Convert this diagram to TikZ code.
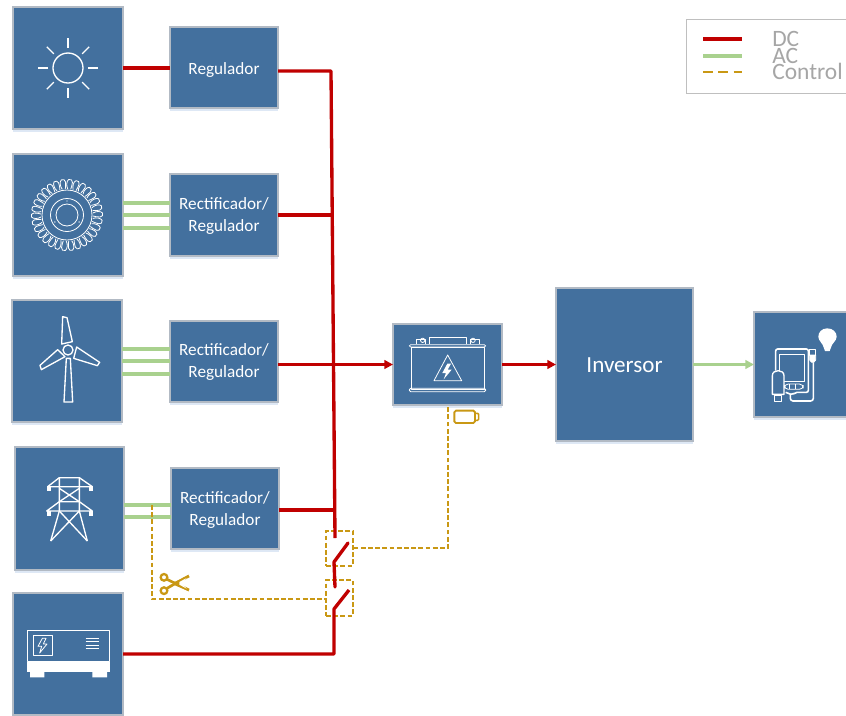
\documentclass[tikz,border=0pt]{standalone}
\usepackage{fontspec}
\setmainfont{Carlito}
\usetikzlibrary{arrows.meta}
\definecolor{boxblue}{RGB}{67,112,158}
\definecolor{boxedge}{RGB}{178,186,196}
\definecolor{legedge}{RGB}{191,191,191}
\definecolor{shade}{RGB}{222,232,245}
\definecolor{dcred}{RGB}{192,0,0}
\definecolor{acgreen}{RGB}{169,209,142}
\definecolor{ctrl}{RGB}{201,152,20}
\definecolor{leggrey}{RGB}{166,166,166}
\tikzset{
  x=.75pt,y=-.75pt,
  box/.style 2 args={draw=boxedge,line width=.8pt,fill=boxblue,inner sep=0pt,outer sep=0pt,
     minimum width=#1*.75pt,minimum height=#2*.75pt,
     preaction={draw=none,fill=shade,transform canvas={yshift=-2.5pt}}},
  dc/.style={draw=dcred,line width=2.5pt},
  ac/.style={draw=acgreen,line width=2.5pt},
  control/.style={draw=ctrl,line width=.9pt,dash pattern=on 3.6pt off 1.8pt},
  arrowtip/.style={-{Triangle[length=6.5pt,width=6.5pt]}},
  icon/.style={draw=white,line width=1pt,line join=round},
  thin icon/.style={draw=white,line width=.6pt,line join=round},
  zoomed/.style={x=.25pt,y=-.25pt},
  legtext/.style={text=leggrey,font=\fontsize{17.6}{18}\selectfont,anchor=base west,inner sep=0pt},
  lab/.style={text=white,align=center,inner sep=0pt,font=\fontsize{12.9}{16.5}\selectfont},
}
\begin{document}
\begin{tikzpicture}
\useasboundingbox (0,0) rectangle (846,715);
\clip (0,0) rectangle (846,715);
\fill[white] (0,0) rectangle (846,715);

% source boxes
\node[box={110}{122}] (sun) at (68,68) {};
\node[box={110}{122}] (turb) at (68,215) {};
\node[box={110}{122}] (wind) at (67,361) {};
\node[box={109}{123}] (grid) at (69.5,508.5) {};
\node[box={110}{122}] (gen) at (68,654) {};
% regulators
\node[box={108}{81}] (regA) at (224,67.5) {};
\node[box={108}{82}] (regB) at (224,215) {};
\node[box={108}{81}] (regC) at (224,361.5) {};
\node[box={108}{81}] (regD) at (225,508.5) {};
\node[lab] (labA) at ([yshift=-1.6pt]regA.center) {Regulador};
\node[lab] (labB) at ([yshift=-.75pt]regB.center) {Rectificador/\\Regulador};
\node[lab] (labC) at ([yshift=-.4pt]regC.center) {Rectificador/\\Regulador};
\node[lab] (labD) at ([yshift=-.75pt]regD.center) {Rectificador/\\Regulador};
% main blocks
\node[box={109}{81}] (bat) at (447.5,364.5) {};
\node[box={137}{153}] (inv) at (624.5,364.5) {};
\node[lab,font=\fontsize{17.3}{20}\selectfont] (labInv) at ([yshift=-.75pt]inv.center) {Inversor};
\node[box={100}{105}] (load) at (804,364.5) {};

% switch frames and junction points
\coordinate (busTop) at (331,71);
\coordinate (busEnd) at (335,538);
\coordinate (swAa) at (348,543);
\coordinate (swAb) at (334,562);
\coordinate (swAc) at (335,587);
\coordinate (swBa) at (349,590);
\coordinate (swBb) at (334,609);
\coordinate (genCorner) at (334,654);
\node[control,draw,minimum width=20.25pt,minimum height=26.25pt,inner sep=0pt] (frameA) at (339.5,548.5) {};
\node[control,draw,minimum width=20.25pt,minimum height=27pt,inner sep=0pt] (frameB) at (339.5,598) {};
\coordinate (ctlBat) at (448,548);
\coordinate (tapGrid) at (152,505);
\coordinate (tapCorner) at (152,599);

% AC lines
\foreach \y in {203,215,228} \draw[ac] (turb.east |- 0,\y) -- (regB.west |- 0,\y);
\foreach \y in {349,361,374} \draw[ac] (wind.east |- 0,\y) -- (regC.west |- 0,\y);
\foreach \y in {505,517} \draw[ac] (grid.east |- 0,\y) -- (regD.west |- 0,\y);
\draw[ac,arrowtip] (inv.east) -- (load.west);

% control lines
\draw[control] (frameA.east |- ctlBat) -- (ctlBat) -- (bat.south -| ctlBat);
\draw[control] (tapGrid) -- (tapCorner) -- (frameB.west |- tapCorner);

% DC lines
\draw[dc] (sun.east) -- (regA.west |- sun.east);
\draw[dc,line join=round] (regA.east |- busTop) -- (busTop) -- (busEnd);
\draw[dc] (regB.east) -- (332,215);
\draw[dc,arrowtip] (regC.east |- bat.west) -- (bat.west);
\draw[dc] (regD.east |- 0,510) -- (335,510);
\draw[dc,line cap=round,line join=round] (swAa) -- (swAb) -- (swAc);
\draw[dc,line join=round] (swBa) -- (swBb) -- (genCorner) -- (gen.east |- genCorner);
\draw[dc,arrowtip] (bat.east) -- (inv.west);

% sun icon
\draw[icon] (68,68) circle (15);
\foreach \a in {0,45,...,315} \draw[icon] (68,68) ++(\a:20) -- ++(\a:10);

% turbine icon
\draw[thin icon] (67,215) circle (25) circle (16.5) circle (11);
\foreach \a in {0,12,...,348} {
  \draw[thin icon,rotate around={\a:(67,215)}]
    (93,213) .. controls (96,211) and (101,211) .. (102.5,213)
    .. controls (103.5,215) and (102,217) .. (100,217) .. controls (97,217) and (95,216.5) .. (93,216);
}
\foreach \a in {30,150,270} \fill[white] (67,215) ++(\a:14) circle (.7);

% wind icon
\begin{scope}[shift={(0,290)},zoomed]
  \draw[icon] (199,205) -- (211,205) -- (218,336) -- (192,336) -- cycle;
  \draw[icon] (188,80) -- (201,83) -- (217,155) -- (185,162) -- cycle;
  \draw[icon] (173,179) -- (195,200) -- (124,239) -- (120,226) -- cycle;
  \draw[icon] (230,171) -- (299,217) -- (292,227) -- (221,205) -- cycle;
  \draw[icon] (204,180) circle (15);
\end{scope}

% grid icon
\begin{scope}[shift={(0,290)},zoomed]
  \draw[icon] (143,590) -- (178,563) -- (238,563) -- (277,590) -- cycle;
  \draw[icon] (140,663) -- (178,635) -- (238,635) -- (277,663) -- cycle;
  \draw[icon] (178,563) -- (178,663) -- (152,753);
  \draw[icon] (238,563) -- (238,663) -- (262,753);
  \draw[icon] (178,595) -- (238,635) (238,595) -- (178,635);
  \draw[icon] (178,663) -- (262,753) (238,663) -- (152,753);
  \foreach \p/\q in {148/595,272/595,148/670,272/670} \fill[white] (\p-6,\q-7) rectangle (\p+6,\q+7);
\end{scope}

% generator icon
\begin{scope}[shift={(0,570)},zoomed]
  \draw[icon] (82,181) rectangle (328,275);
  \fill[white] (81,275) rectangle (329,305);
  \fill[white] (90,305) rectangle (133,322) (277,305) rectangle (321,322);
  \draw[thin icon] (101,197) rectangle (156,257);
  \draw[thin icon] (127,205) -- (114,229) -- (125,229) -- (119,249) -- (141,222) -- (130,222) -- (138,205) -- cycle;
  \foreach \y in {205,213,225,235} \draw[thin icon] (257,\y) -- (296,\y);
\end{scope}

% battery icon
\begin{scope}[shift={(385,315)},zoomed]
  \draw[thin icon] (78,96) rectangle (298,222);
  \draw[thin icon,rounded corners=1pt] (73,89) rectangle (302,96);
  \draw[thin icon,rounded corners=1pt] (73,220) rectangle (302,230);
  \draw[thin icon] (95,88) -- (95,74) -- (122,74) -- (122,88);
  \draw[thin icon] (255,88) -- (255,74) -- (282,74) -- (282,88);
  \draw[thin icon] (133,88) -- (133,68) -- (245,68) -- (245,88);
  \draw[thin icon] (113,76) circle (6.5) (264,76) circle (6.5);
  \draw[thin icon] (188,120) -- (147,197) -- (230,197) -- cycle;
  \fill[white] (187,146) -- (172,174) -- (183,174) -- (176,193) -- (200,164) -- (188,164) -- (198,146) -- cycle;
\end{scope}

% small battery mark
\begin{scope}[shift={(385,315)},zoomed]
  \draw[ctrl,line width=1.4pt,rounded corners=1.2pt] (208,287) rectangle (270,324);
  \draw[ctrl,line width=1.1pt,rounded corners=.8pt] (270,295) -- (281,295) -- (281,316) -- (270,316);
\end{scope}

% scissors
\begin{scope}[shift={(0,570)},zoomed]
  \draw[ctrl,line width=1.7pt] (492,22) circle (10) (492,62) circle (10);
  \draw[ctrl,line width=2pt] (501,28) -- (530,42) -- (567,60);
  \draw[ctrl,line width=2pt] (501,55) -- (530,38) -- (567,18);
  \fill[ctrl] (520,38) -- (567,14) -- (540,42) -- (567,64) -- (520,44) -- cycle;
  \fill[white] (538,36) -- (560,24) -- (545,40) -- (560,56) -- (538,44) -- cycle;
\end{scope}

% load icon
\begin{scope}[shift={(745,305)},zoomed]
  \fill[white] (247,70) .. controls (230,70) and (220,82) .. (220,95)
     .. controls (220,108) and (234,114) .. (237,130) -- (240,138) -- (254,138) -- (257,130)
     .. controls (260,114) and (275,108) .. (275,95)
     .. controls (275,82) and (264,70) .. (247,70) -- cycle;
  \draw[icon,line width=1.2pt,rounded corners=1.5pt] (92,197) -- (92,132) -- (190,132) -- (190,262) -- (150,262) -- (143,270) -- (122,262);
  \draw[thin icon] (102,148) rectangle (177,228);
  \draw[icon,fill=boxblue] (82,268) -- (82,212) .. controls (82,192) and (117,192) .. (117,212) -- (117,268) -- cycle;
  \draw[thin icon] (88,272) rectangle (110,290);
  \draw[thin icon,rounded corners=3pt] (118,237) rectangle (175,253);
  \draw[thin icon] (132,237) -- (132,253) (150,237) -- (150,253);
  \draw[icon,line width=1.2pt,rounded corners=2pt] (136,270) -- (136,288) -- (205,288) -- (205,172);
  \draw[thin icon,fill=boxblue] (194,132) rectangle (212,150);
  \draw[thin icon,fill=white] (194,150) -- (212,150) -- (212,165) -- (206,172) -- (200,172) -- (194,165) -- cycle;
\end{scope}

% legend
\node[draw=legedge,line width=.7pt,minimum width=165pt,minimum height=55.5pt,inner sep=0pt,outer sep=0pt] (legend) at (796,56) {};
\coordinate (la) at (703,39);
\coordinate (lb) at (742,39);
\draw[dc] (la) -- (lb);
\draw[ac] (la |- 0,56) -- (lb |- 0,56);
\draw[control,line width=1.7pt,dash pattern=on 7.5pt off 4pt] (la |- 0,72) -- (lb |- 0,72);
\node[legtext] (tdc) at (772,46) {DC};
\node[legtext] (tac) at (772,63) {AC};
\node[legtext] (tct) at (772,79) {Control};
\end{tikzpicture}
\end{document}
